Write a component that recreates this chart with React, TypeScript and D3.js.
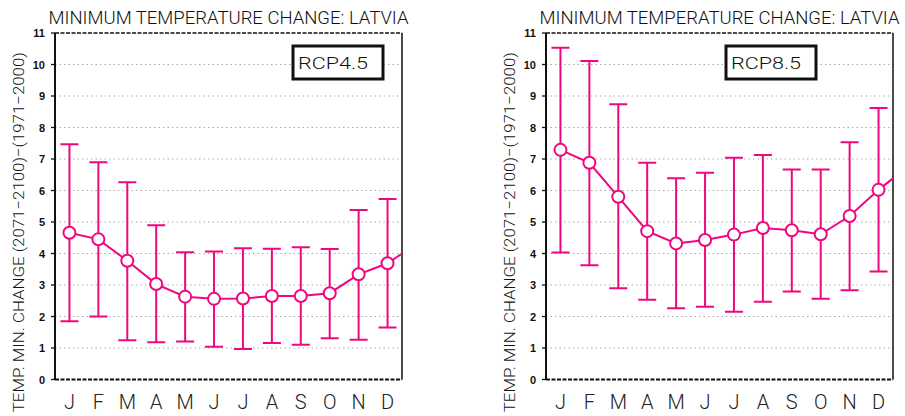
import React from "react";
import * as d3 from "d3";

const months = ["J", "F", "M", "A", "M", "J", "J", "A", "S", "O", "N", "D"];
const yTicks = [0, 1, 2, 3, 4, 5, 6, 7, 8, 9, 10, 11];

// RCP4.5
const mean45 = [4.66, 4.45, 3.77, 3.03, 2.63, 2.56, 2.57, 2.65, 2.65, 2.74, 3.34, 3.69];
const upper45 = [7.47, 6.9, 6.26, 4.9, 4.04, 4.06, 4.17, 4.15, 4.2, 4.14, 5.38, 5.73];
const lower45 = [1.85, 2.0, 1.25, 1.18, 1.21, 1.04, 0.97, 1.16, 1.1, 1.31, 1.26, 1.65];
const next45 = 4.3; // continuation beyond December (clipped)

// RCP8.5
const mean85 = [7.29, 6.88, 5.8, 4.71, 4.32, 4.43, 4.6, 4.81, 4.74, 4.61, 5.19, 6.02];
const upper85 = [10.53, 10.11, 8.74, 6.88, 6.39, 6.56, 7.04, 7.13, 6.67, 6.67, 7.53, 8.62];
const lower85 = [4.03, 3.63, 2.9, 2.53, 2.26, 2.31, 2.15, 2.47, 2.79, 2.56, 2.83, 3.43];
const next85 = 6.75;

const TITLE = "MINIMUM TEMPERATURE CHANGE: LATVIA";
const YLABEL = "TEMP. MIN. CHANGE (2071\u22122100)\u2212(1971\u22122000)";
const PINK = "#f0077f";
const FONT = "'Liberation Sans', Arial, sans-serif";
const THIN = "Roboto, 'Liberation Sans', sans-serif";

type PanelProps = {
  x0: number;
  id: string;
  label: string;
  boxX: number;
  mean: number[];
  upper: number[];
  lower: number[];
  next: number;
};

function Panel({ x0, id, label, boxX, mean, upper, lower, next }: PanelProps) {
  const W = 347;
  const top = 33;
  const bottom = 379.5;
  const x = d3.scaleLinear().domain([-0.5, 11.5]).range([x0, x0 + W]);
  const y = d3.scaleLinear().domain([0, 11]).range([bottom, top]);
  const pts: [number, number][] = mean.map((v, i) => [i, v]);
  pts.push([12, next]);
  const line = d3
    .line<[number, number]>()
    .x((d) => x(d[0]))
    .y((d) => y(d[1]));
  const cx = x0 + W / 2;
  return (
    <g>
      <defs>
        <clipPath id={id}>
          <rect x={x0} y={top - 1} width={W} height={bottom - top + 2} />
        </clipPath>
      </defs>
      <text
        x={cx}
        y={24}
        textAnchor="middle"
        fontFamily={THIN}
        fontWeight={300}
        fontSize={17.5}
        fill="#111"
        textLength={360}
        lengthAdjust="spacingAndGlyphs"
      >
        {TITLE}
      </text>
      {/* grid */}
      {yTicks.slice(1, 11).map((t) => (
        <line
          key={t}
          x1={x0}
          x2={x0 + W}
          y1={y(t)}
          y2={y(t)}
          stroke="#aaa"
          strokeWidth={1}
          strokeDasharray="1.5,3"
        />
      ))}
      {/* frame */}
      <line x1={x0} x2={x0 + W} y1={top} y2={top} stroke="#111" strokeWidth={1.3} strokeDasharray="4,1.5" />
      <line x1={x0} x2={x0 + W} y1={bottom} y2={bottom} stroke="#111" strokeWidth={2} strokeDasharray="4,1.5" />
      <line x1={x0} x2={x0} y1={top} y2={bottom} stroke="#111" strokeWidth={2} />
      <line x1={x0 + W} x2={x0 + W} y1={top} y2={bottom} stroke="#111" strokeWidth={1.5} />
      {/* y ticks */}
      {yTicks.map((t) => (
        <g key={t}>
          <line x1={x0 - 4} x2={x0} y1={y(t)} y2={y(t)} stroke="#111" strokeWidth={1.3} />
          <text
            x={x0 - 10}
            y={y(t) + 4}
            textAnchor="end"
            fontFamily={FONT}
            fontSize={11}
            fontWeight="bold"
            fill="#111"
          >
            {t}
          </text>
        </g>
      ))}
      {/* y label */}
      <text
        transform={`translate(${x0 - 31},${(top + bottom) / 2 + 26}) rotate(-90)`}
        textAnchor="middle"
        fontFamily={THIN}
        fontWeight={300}
        fontSize={15.5}
        fill="#111"
        textLength={360}
        lengthAdjust="spacingAndGlyphs"
      >
        {YLABEL}
      </text>
      {/* x labels */}
      {months.map((m, i) => (
        <text
          key={i}
          x={x(i)}
          y={409}
          textAnchor="middle"
          fontFamily={THIN}
          fontWeight={300}
          fontSize={20}
          fill="#222"
        >
          {m}
        </text>
      ))}
      {/* legend box */}
      <rect x={boxX} y={46} width={90} height={33} fill="white" stroke="#111" strokeWidth={3} />
      <text
        x={boxX + 5}
        y={68.5}
        fontFamily={THIN}
        fontWeight={300}
        fontSize={17}
        fill="#111"
        textLength={70}
        lengthAdjust="spacingAndGlyphs"
      >
        {label}
      </text>
      {/* error bars */}
      <g stroke={PINK} strokeWidth={2} clipPath={`url(#${id})`}>
        {mean.map((_, i) => (
          <g key={i}>
            <line x1={x(i)} x2={x(i)} y1={y(upper[i])} y2={y(lower[i])} />
            <line x1={x(i) - 9} x2={x(i) + 9} y1={y(upper[i])} y2={y(upper[i])} />
            <line x1={x(i) - 9} x2={x(i) + 9} y1={y(lower[i])} y2={y(lower[i])} />
          </g>
        ))}
        <path d={line(pts) || ""} fill="none" />
        {mean.map((v, i) => (
          <circle key={i} cx={x(i)} cy={y(v)} r={6} fill="white" />
        ))}
      </g>
    </g>
  );
}

export default function App() {
  return (
    <svg width={905} height={416} style={{ position: "absolute", left: 0, top: 0 }}>
      <rect width={905} height={416} fill="white" />
      <Panel x0={55} id="c45" label="RCP4.5" boxX={293} mean={mean45} upper={upper45} lower={lower45} next={next45} />
      <Panel x0={546} id="c85" label="RCP8.5" boxX={726} mean={mean85} upper={upper85} lower={lower85} next={next85} />
    </svg>
  );
}
